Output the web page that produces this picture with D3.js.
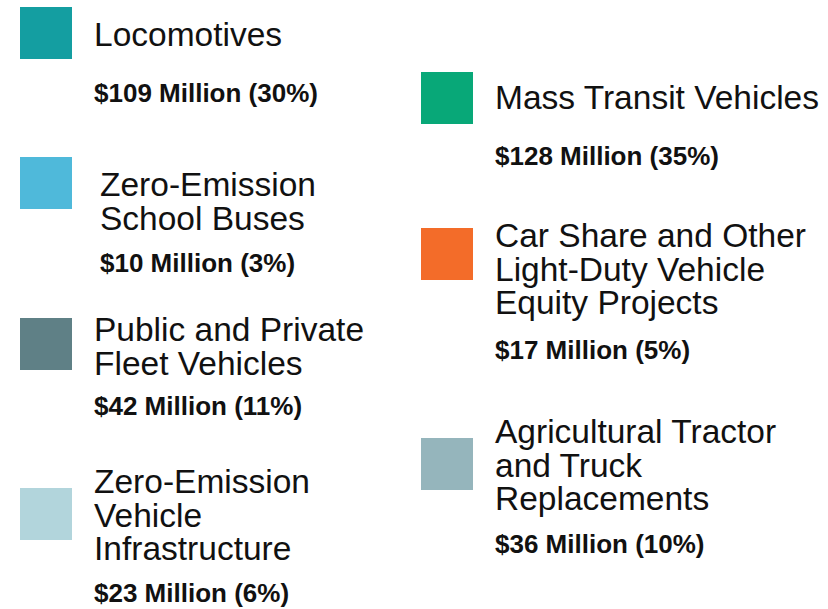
<!DOCTYPE html>
<html>
<head>
<meta charset="utf-8">
<script src="https://cdnjs.cloudflare.com/ajax/libs/d3/7.8.5/d3.min.js"></script>
<style>
  html, body { margin: 0; padding: 0; background: #fff; }
  svg { display: block; font-family: "Liberation Sans", Arial, Helvetica, sans-serif; }
</style>
</head>
<body>
<div id="chart"></div>
<script>
// categorias (con saltos de linea) y valores
const categories = [
  ['Locomotives'],
  ['Zero-Emission', 'School Buses'],
  ['Public and Private', 'Fleet Vehicles'],
  ['Zero-Emission', 'Vehicle', 'Infrastructure'],
  ['Mass Transit Vehicles'],
  ['Car Share and Other', 'Light-Duty Vehicle', 'Equity Projects'],
  ['Agricultural Tractor', 'and Truck', 'Replacements']
];
const amounts = [109, 10, 42, 23, 128, 17, 36];     // $ millones
const percents = [30, 3, 11, 6, 35, 5, 10];
const palette = ['#149ea1', '#4fb9da', '#5f8086', '#b2d5dc', '#08a878', '#f36c29', '#95b5bc'];

// posicion de cada bloque de la leyenda
const layout = [
  { col: 0, box: 7,   title: 46,  value: 102, dx: 0 },
  { col: 0, box: 157, title: 196, value: 272, dx: 6 },
  { col: 0, box: 318, title: 341, value: 415, dx: 0 },
  { col: 0, box: 488, title: 493, value: 602, dx: 0 },
  { col: 1, box: 72,  title: 109, value: 165, dx: 0 },
  { col: 1, box: 228, title: 247, value: 359, dx: 0 },
  { col: 1, box: 438, title: 443, value: 553, dx: 0 }
];

const width = 828, height = 609;
const boxSize = 52;
const lineHeight = 33.5;

const color = d3.scaleOrdinal().domain(d3.range(categories.length)).range(palette);
const colX = d3.scaleOrdinal().domain([0, 1]).range([20, 421]);

const svg = d3.select('#chart').append('svg')
  .attr('width', width)
  .attr('height', height);

const items = svg.selectAll('g.item')
  .data(categories.map((c, i) => ({ lines: c, amount: amounts[i], pct: percents[i], i })))
  .enter().append('g')
  .attr('class', 'item')
  .attr('transform', d => `translate(${colX(layout[d.i].col)},0)`);

items.append('rect')
  .attr('x', 0)
  .attr('y', d => layout[d.i].box)
  .attr('width', boxSize)
  .attr('height', boxSize)
  .attr('fill', d => color(d.i));

items.append('text')
  .attr('fill', '#111')
  .style('font-size', '33.5px')
  .selectAll('tspan')
  .data(d => d.lines.map((l, k) => ({ l, k, i: d.i })))
  .enter().append('tspan')
  .attr('x', d => 74 + layout[d.i].dx)
  .attr('y', d => layout[d.i].title + d.k * lineHeight)
  .text(d => d.l);

items.append('text')
  .attr('x', d => 74 + layout[d.i].dx)
  .attr('y', d => layout[d.i].value)
  .attr('fill', '#111')
  .style('font-size', '26px')
  .style('font-weight', 'bold')
  .text(d => `$${d.amount} Million (${d.pct}%)`);
</script>
</body>
</html>
